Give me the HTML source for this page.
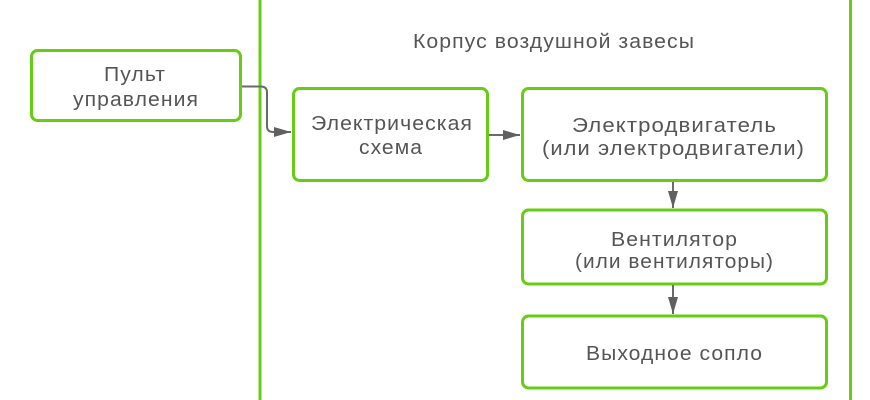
<!DOCTYPE html>
<html>
<head>
<meta charset="utf-8">
<style>
  html, body { margin: 0; padding: 0; background: #ffffff; }
  body { width: 870px; height: 400px; overflow: hidden; }
  svg { display: block; }
  text { font-family: "Liberation Sans", "DejaVu Sans", sans-serif; font-size: 20px; fill: #555555; letter-spacing: 1px; }
</style>
</head>
<body>
<svg width="870" height="400" viewBox="0 0 870 400" xmlns="http://www.w3.org/2000/svg">
  <defs>
    <marker id="ah" viewBox="0 0 17 10" refX="17" refY="5" markerWidth="17" markerHeight="10" markerUnits="userSpaceOnUse" orient="auto">
      <path d="M0,0 L17,5 L0,10 z" fill="#606060"/>
    </marker>
  </defs>

  <!-- Container -->
  <rect x="260" y="-20" width="590.5" height="440" fill="none" stroke="#67cc14" stroke-width="3"/>

  <!-- Boxes -->
  <rect x="31.5" y="50.5" width="209" height="70" rx="6" fill="#fff" stroke="#67cc14" stroke-width="3"/>
  <rect x="293.5" y="88.5" width="194" height="92" rx="6" fill="#fff" stroke="#67cc14" stroke-width="3"/>
  <rect x="522.5" y="88.5" width="304" height="92" rx="6" fill="#fff" stroke="#67cc14" stroke-width="3"/>
  <rect x="522.5" y="210" width="304" height="74" rx="6" fill="#fff" stroke="#67cc14" stroke-width="3"/>
  <rect x="522.5" y="316" width="304" height="72" rx="6" fill="#fff" stroke="#67cc14" stroke-width="3"/>

  <!-- Connectors -->
  <path d="M242,86.5 L261,86.5 Q267,86.5 267,92.5 L267,126 Q267,132 273,132 L291,132" fill="none" stroke="#6a6a6a" stroke-width="2" marker-end="url(#ah)"/>
  <path d="M489,135 L520,135" fill="none" stroke="#6a6a6a" stroke-width="2" marker-end="url(#ah)"/>
  <path d="M673,182 L673,208" fill="none" stroke="#6a6a6a" stroke-width="2" marker-end="url(#ah)"/>
  <path d="M673,285 L673,314" fill="none" stroke="#6a6a6a" stroke-width="2" marker-end="url(#ah)"/>

  <!-- Labels -->
  <text x="413" y="48" textLength="282" lengthAdjust="spacingAndGlyphs">Корпус воздушной завесы</text>

  <text x="104" y="81" textLength="62" lengthAdjust="spacingAndGlyphs">Пульт</text>
  <text x="73" y="106" textLength="126" lengthAdjust="spacingAndGlyphs">управления</text>

  <text x="311" y="130" textLength="162" lengthAdjust="spacingAndGlyphs">Электрическая</text>
  <text x="359" y="154" textLength="64" lengthAdjust="spacingAndGlyphs">схема</text>

  <text x="572" y="132" textLength="205" lengthAdjust="spacingAndGlyphs">Электродвигатель</text>
  <text x="542" y="155" textLength="263" lengthAdjust="spacingAndGlyphs">(или электродвигатели)</text>

  <text x="611" y="246" textLength="127" lengthAdjust="spacingAndGlyphs">Вентилятор</text>
  <text x="575" y="268" textLength="199" lengthAdjust="spacingAndGlyphs">(или вентиляторы)</text>

  <text x="586" y="360" textLength="177" lengthAdjust="spacingAndGlyphs">Выходное сопло</text>
</svg>
</body>
</html>
